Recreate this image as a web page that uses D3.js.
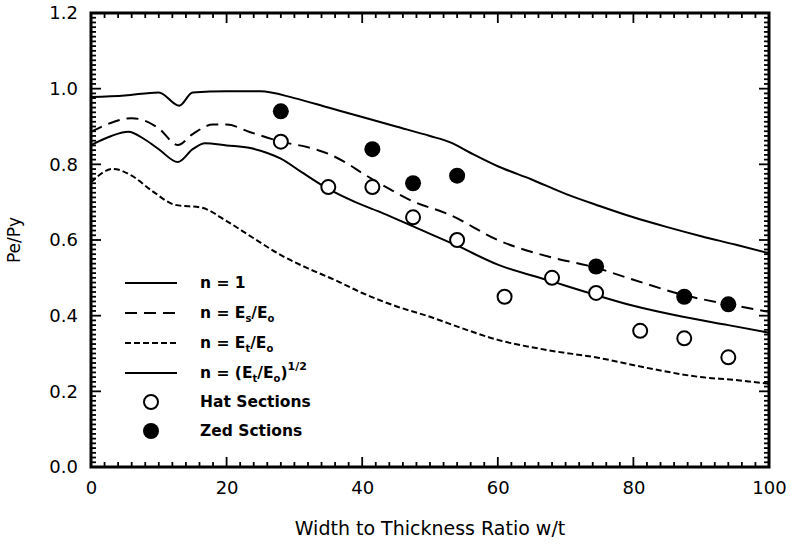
<!DOCTYPE html>
<html>
<head>
<meta charset="utf-8">
<script src="https://cdn.jsdelivr.net/npm/d3@7"></script>
<style>
  body { margin: 0; background: #fff; }
  text { font-family: "DejaVu Sans", sans-serif; fill: #000; }
  .legend text { font-weight: bold; }
</style>
</head>
<body>
<div id="chart"></div>
<script>
// Define svg dimensions
var svgWidth = 793;
var svgHeight = 546;

// Plot frame
var chartMargin = { top: 13, right: 24, bottom: 79, left: 91 };
var chartWidth = svgWidth - chartMargin.left - chartMargin.right;
var chartHeight = svgHeight - chartMargin.top - chartMargin.bottom;

// Curve data: [w/t, Pe/Py]
var curveN1 = [[0,0.978],[5,0.982],[10,0.99],[13,0.955],[15,0.99],[20,0.993],[25,0.993],
  [30,0.975],[35,0.95],[40,0.925],[45,0.9],[50,0.875],[53,0.858],[56,0.83],[60,0.795],
  [65,0.76],[70,0.722],[75,0.69],[80,0.66],[85,0.634],[90,0.61],[95,0.588],[100,0.565]];
var curveEs = [[0,0.886],[3,0.91],[6,0.922],[8,0.915],[10,0.895],[12.8,0.851],[15,0.88],
  [18,0.905],[20,0.905],[23.5,0.885],[28,0.86],[32,0.845],[35,0.828],[38,0.8],[40,0.777],
  [44,0.735],[47,0.706],[53,0.666],[60,0.6],[67.7,0.555],[74,0.529],[80,0.495],[87.3,0.455],
  [94,0.43],[100,0.41]];
var curveEt = [[0,0.753],[3.3,0.788],[6,0.77],[9,0.73],[12.4,0.693],[16.4,0.685],[20,0.65],
  [23.7,0.608],[28,0.56],[32,0.525],[36,0.494],[40,0.46],[45,0.425],[50,0.397],[55,0.365],
  [60,0.336],[67,0.31],[75,0.288],[82,0.262],[89.8,0.238],[95,0.23],[100,0.22]];
var curveSqrt = [[0,0.851],[3,0.875],[5.5,0.886],[8,0.865],[10,0.84],[12.8,0.806],[15,0.84],
  [16.8,0.856],[20,0.85],[23.5,0.843],[26,0.83],[28,0.815],[31,0.78],[34.8,0.737],[39,0.7],
  [43,0.671],[48,0.632],[54,0.585],[60,0.535],[67.7,0.492],[74,0.457],[80,0.426],[87.3,0.397],
  [94,0.375],[100,0.355]];

// Test points
var hatX = [28, 35, 41.5, 47.5, 54, 61, 68, 74.5, 81, 87.5, 94];
var hatY = [0.86, 0.74, 0.74, 0.66, 0.60, 0.45, 0.50, 0.46, 0.36, 0.34, 0.29];
var zedX = [28, 41.5, 47.5, 54, 74.5, 87.5, 94];
var zedY = [0.94, 0.84, 0.75, 0.77, 0.53, 0.45, 0.43];

// Axis ticks
var xTicks = [0, 20, 40, 60, 80, 100];
var yTicks = [0.0, 0.2, 0.4, 0.6, 0.8, 1.0, 1.2];

var svg = d3.select("#chart")
  .append("svg")
  .attr("width", svgWidth)
  .attr("height", svgHeight);

var chartGroup = svg.append("g")
  .attr("transform", `translate(${chartMargin.left}, ${chartMargin.top})`);

var xScale = d3.scaleLinear().domain([0, 100]).range([0, chartWidth]);
var yScale = d3.scaleLinear().domain([0, 1.2]).range([chartHeight, 0]);

// Minor + major ticks, drawn inward on all four sides
var xMinor = d3.range(0, 100.001, 2);
var yMinor = d3.range(0, 1.2001, 0.0125);

function tickLines(g, vals, isX, side) {
  g.selectAll(null).data(vals).enter().append("line")
    .attr("stroke", "#000").attr("stroke-width", 1.8)
    .each(function(v) {
      var major = isX ? Math.abs(v % 20) < 1e-6 : Math.abs(Math.round(v * 5) - v * 5) < 1e-6;
      var len = major ? 10 : 5;
      var el = d3.select(this);
      if (isX) {
        var px = xScale(v);
        var y0 = side === "bottom" ? chartHeight : 0;
        var dir = side === "bottom" ? -1 : 1;
        el.attr("x1", px).attr("x2", px).attr("y1", y0).attr("y2", y0 + dir * len);
      } else {
        var py = yScale(v);
        var x0 = side === "left" ? 0 : chartWidth;
        var dir2 = side === "left" ? 1 : -1;
        el.attr("y1", py).attr("y2", py).attr("x1", x0).attr("x2", x0 + dir2 * len);
      }
    });
}

var ticksGroup = chartGroup.append("g");
tickLines(ticksGroup, xMinor, true, "bottom");
tickLines(ticksGroup, xMinor, true, "top");
tickLines(ticksGroup, yMinor, false, "left");
tickLines(ticksGroup, yMinor, false, "right");

// Frame
chartGroup.append("rect")
  .attr("width", chartWidth).attr("height", chartHeight)
  .attr("fill", "none").attr("stroke", "#000").attr("stroke-width", 3);

// Tick labels via d3 axes (tick lines hidden)
var bottomAxis = d3.axisBottom(xScale).tickValues(xTicks).tickSize(0).tickPadding(14)
  .tickFormat(d3.format("d"));
chartGroup.append("g")
  .attr("transform", `translate(0, ${chartHeight})`)
  .call(bottomAxis)
  .call(g => g.select(".domain").remove())
  .selectAll("text").attr("font-size", 18).attr("font-family", "DejaVu Sans, sans-serif");

var leftAxis = d3.axisLeft(yScale).tickValues(yTicks).tickSize(0).tickPadding(13)
  .tickFormat(d3.format(".1f"));
chartGroup.append("g")
  .call(leftAxis)
  .call(g => g.select(".domain").remove())
  .selectAll("text").attr("font-size", 18).attr("font-family", "DejaVu Sans, sans-serif");

// Axis titles
svg.append("text")
  .attr("x", chartMargin.left + chartWidth / 2)
  .attr("y", 535)
  .attr("text-anchor", "middle")
  .attr("font-size", 19)
  .text("Width to Thickness Ratio w/t");

svg.append("text")
  .attr("transform", `translate(20, ${chartMargin.top + chartHeight / 2}) rotate(-90)`)
  .attr("text-anchor", "middle")
  .attr("font-size", 17)
  .text("Pe/Py");

// Curves
var line = d3.line()
  .x(d => xScale(d[0]))
  .y(d => yScale(d[1]))
  .curve(d3.curveMonotoneX);

var curves = [
  { data: curveN1, dash: null },
  { data: curveEs, dash: "12,7" },
  { data: curveEt, dash: "6,3" },
  { data: curveSqrt, dash: null }
];

chartGroup.append("g").selectAll("path")
  .data(curves)
  .enter()
  .append("path")
  .attr("d", d => line(d.data))
  .attr("fill", "none")
  .attr("stroke", "#000")
  .attr("stroke-width", 2)
  .attr("stroke-dasharray", d => d.dash);

// Hat section markers (open)
chartGroup.append("g").selectAll("circle")
  .data(hatX)
  .enter()
  .append("circle")
  .attr("cx", d => xScale(d))
  .attr("cy", (d, i) => yScale(hatY[i]))
  .attr("r", 7)
  .attr("fill", "#fff")
  .attr("stroke", "#000")
  .attr("stroke-width", 2);

// Zed section markers (filled)
chartGroup.append("g").selectAll("circle")
  .data(zedX)
  .enter()
  .append("circle")
  .attr("cx", d => xScale(d))
  .attr("cy", (d, i) => yScale(zedY[i]))
  .attr("r", 8)
  .attr("fill", "#000");

// Legend
var legend = svg.append("g").classed("legend", true);
var legendRows = [283, 313, 343, 373, 402, 431];
var lineX1 = 125, lineX2 = 177, textX = 200;

[null, "12,7", "6,3", null].forEach(function(dash, i) {
  legend.append("line")
    .attr("x1", lineX1).attr("x2", lineX2)
    .attr("y1", legendRows[i]).attr("y2", legendRows[i])
    .attr("stroke", "#000").attr("stroke-width", 2)
    .attr("stroke-dasharray", dash);
});

legend.append("circle").attr("cx", 151).attr("cy", legendRows[4]).attr("r", 7)
  .attr("fill", "#fff").attr("stroke", "#000").attr("stroke-width", 2);
legend.append("circle").attr("cx", 151).attr("cy", legendRows[5]).attr("r", 8)
  .attr("fill", "#000");

function legendText(i) {
  return legend.append("text")
    .attr("x", textX)
    .attr("y", legendRows[i] + 5)
    .attr("font-size", 15.5);
}

legendText(0).text("n = 1");

var t1 = legendText(1);
t1.append("tspan").text("n = E");
t1.append("tspan").attr("font-size", 10).attr("dy", 4).text("s");
t1.append("tspan").attr("dy", -4).text("/E");
t1.append("tspan").attr("font-size", 10).attr("dy", 4).text("o");

var t2 = legendText(2);
t2.append("tspan").text("n = E");
t2.append("tspan").attr("font-size", 10).attr("dy", 4).text("t");
t2.append("tspan").attr("dy", -4).text("/E");
t2.append("tspan").attr("font-size", 10).attr("dy", 4).text("o");

var t3 = legendText(3);
t3.append("tspan").text("n = (E");
t3.append("tspan").attr("font-size", 10).attr("dy", 4).text("t");
t3.append("tspan").attr("dy", -4).text("/E");
t3.append("tspan").attr("font-size", 10).attr("dy", 4).text("o");
t3.append("tspan").attr("dy", -4).text(")");
t3.append("tspan").attr("font-size", 11).attr("dy", -8).text("1/2");

legendText(4).text("Hat Sections");
legendText(5).text("Zed Sctions");
</script>
</body>
</html>
